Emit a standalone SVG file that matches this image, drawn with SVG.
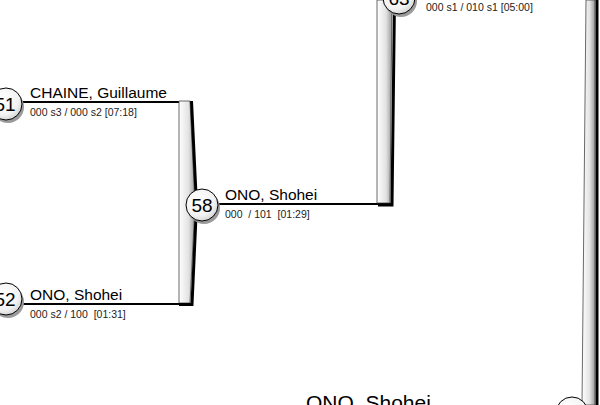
<svg xmlns="http://www.w3.org/2000/svg" width="600" height="405" viewBox="0 0 600 405">
<defs>
<linearGradient id="bar" x1="0" y1="0" x2="1" y2="0">
<stop offset="0" stop-color="#ffffff"/>
<stop offset="0.6" stop-color="#e2e2e2"/>
<stop offset="1" stop-color="#9a9a9a"/>
</linearGradient>
<radialGradient id="ball" cx="0.4" cy="0.35" r="0.7">
<stop offset="0" stop-color="#ffffff"/>
<stop offset="0.7" stop-color="#f2f2f2"/>
<stop offset="1" stop-color="#d0d0d0"/>
</radialGradient>
<style>
.bar{fill:url(#bar);stroke:#444;stroke-width:0.8}
.edge{fill:none;stroke:#000;stroke-width:3}
.ln{stroke:#000;stroke-width:2;fill:none}
.ball{fill:url(#ball);stroke:#000;stroke-width:1}
.shadow{fill:#9a9a9a}
text{font-family:"Liberation Sans",Arial,sans-serif;white-space:pre}
.num{font-size:19px;fill:#000;text-anchor:middle}
.name{font-size:15.5px;fill:#000}
.big{font-size:21px;fill:#000}
.sub{font-size:10.5px;fill:#222}
</style>
</defs>
<g id="connectors">
<line class="ln" x1="20" y1="102" x2="181" y2="102"/>
<line class="ln" x1="20" y1="304" x2="181" y2="304"/>
<line class="ln" x1="216" y1="204" x2="391" y2="204"/>
<polygon class="bar" points="179,101 190,101 195,205 190,303 179,303"/>
<path class="edge" d="M191.5,101 L196.5,205 L192,304.5 L179,304.5"/>
<polygon class="bar" points="377,0 392,0 390,203 377,203"/>
<path class="edge" d="M394.5,0 L392,205 L378,205"/>
<polygon class="bar" points="586,0 595,0 595,405 582,405"/>
<line class="edge" x1="597" y1="0" x2="597" y2="405"/>
</g>
<g id="n51">
<circle class="shadow" cx="8" cy="107" r="16"/>
<circle class="ball" cx="6" cy="104" r="16"/>
<text class="num" x="5" y="111">51</text>
<text class="name" x="30" y="98">CHAINE, Guillaume</text>
<text class="sub" x="30" y="116">000 s3 / 000 s2 [07:18]</text>
</g>
<g id="n52">
<circle class="shadow" cx="8" cy="302" r="16"/>
<circle class="ball" cx="6" cy="299" r="16"/>
<text class="num" x="5" y="306">52</text>
<text class="name" x="30" y="300">ONO, Shohei</text>
<text class="sub" x="30" y="318">000 s2 / 100  [01:31]</text>
</g>
<g id="n58">
<circle class="shadow" cx="204" cy="208" r="16"/>
<circle class="ball" cx="202" cy="205" r="16"/>
<text class="num" x="202" y="212">58</text>
<text class="name" x="225" y="200">ONO, Shohei</text>
<text class="sub" x="225" y="218">000  / 101  [01:29]</text>
</g>
<g id="ntop">
<circle class="shadow" cx="401" cy="1" r="16"/>
<circle class="ball" cx="399" cy="-2" r="16"/>
<text class="num" x="399" y="5">63</text>
<text class="sub" x="426" y="11">000 s1 / 010 s1 [05:00]</text>
</g>
<g id="nfinal">
<circle class="shadow" cx="574" cy="416" r="16"/>
<circle class="ball" cx="572" cy="413" r="16"/>
<text class="big" x="306" y="410">ONO, Shohei</text>
</g>
</svg>
